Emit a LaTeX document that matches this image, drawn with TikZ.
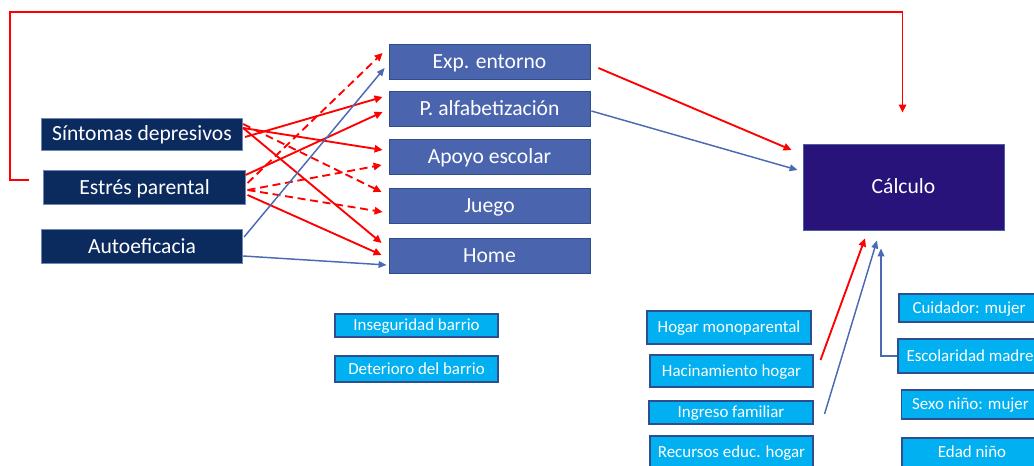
\documentclass[tikz,border=0pt]{standalone}
\usepackage{fontspec}
\setmainfont{Carlito}
\usetikzlibrary{arrows.meta,calc}
\definecolor{navyfill}{HTML}{0B2B5E}
\definecolor{navyedge}{HTML}{6F86B8}
\definecolor{midfill}{HTML}{4A65AE}
\definecolor{midedge}{HTML}{2F4E8C}
\definecolor{calcfill}{HTML}{27137A}
\definecolor{calcedge}{HTML}{4A5FA0}
\definecolor{cyanfill}{HTML}{00B0F0}
\definecolor{cyanedge}{HTML}{2E4F8F}
\definecolor{redline}{HTML}{FF0000}
\definecolor{blueline}{HTML}{4A6AB4}
\begin{document}
\begin{tikzpicture}[x=0.75pt,y=-0.75pt,
  box/.style={rectangle, inner sep=0pt, text=white, line width=0.6pt, text depth=0pt},
  bigtext/.style={font=\fontsize{16.2}{18}\selectfont, text height=10.25pt},
  leftbox/.style={box, bigtext, fill=navyfill, draw=navyedge, minimum width=151pt, minimum height=26pt},
  midbox/.style={box, bigtext, fill=midfill, draw=midedge, minimum width=150.75pt, minimum height=26.25pt},
  calcbox/.style={box, bigtext, fill=calcfill, draw=calcedge, minimum width=150.75pt, minimum height=64.5pt},
  smallbox/.style={box, fill=cyanfill, draw=cyanedge, line width=0.8pt, font=\fontsize{12.7}{14}\selectfont, text height=8.05pt},
  redarrow/.style={draw=redline, line width=1.4pt, -{Triangle[length=6pt,width=5.5pt]}},
  reddash/.style={redarrow, dash pattern=on 6pt off 3.5pt},
  bluearrow/.style={draw=blueline, line width=1.1pt, -{Triangle[length=6pt,width=5pt]}}
]
\useasboundingbox (0,0) rectangle (1034,466);

% left boxes
\node[leftbox, minimum height=24pt] (sint) at (142,134) {Síntomas depresivos};
\node[leftbox] (estres) at (144.5,187.5) {Estrés parental};
\node[leftbox] (auto) at (142,246.5) {Autoeficacia};

% middle boxes
\node[midbox] (exp) at (489.5,61.5) {Exp. entorno};
\node[midbox] (palf) at (489.5,108.5) {P. alfabetización};
\node[midbox] (apoyo) at (489.5,156.5) {Apoyo escolar};
\node[midbox] (juego) at (489.5,205.5) {Juego};
\node[midbox] (home) at (489.5,255.5) {Home};

% outcome
\node[calcbox] (calc) at (903.5,187) {Cálculo};

% neighbourhood boxes
\node[smallbox, minimum width=122.25pt, minimum height=17.25pt] (inseg) at (416.5,325.5) {Inseguridad barrio};
\node[smallbox, minimum width=122.25pt, minimum height=19.5pt] (deter) at (416.5,369) {Deterioro del barrio};

% household boxes
\node[smallbox, minimum width=123pt, minimum height=24.75pt] (hogar) at (729,327.5) {Hogar monoparental};
\node[smallbox, minimum width=122.25pt, minimum height=24pt] (hacin) at (731.5,371) {Hacinamiento hogar};
\node[smallbox, minimum width=123pt, minimum height=17.25pt] (ingreso) at (731,412.5) {Ingreso familiar};
\node[smallbox, minimum width=122.25pt, minimum height=24.75pt] (recursos) at (731.5,452.5) {Recursos educ. hogar};

% child/caregiver boxes
\node[smallbox, minimum width=105pt, minimum height=21pt] (cuid) at (969,308) {Cuidador: mujer};
\node[smallbox, minimum width=108pt, minimum height=25.5pt] (escol) at (970,356) {Escolaridad madre};
\node[smallbox, minimum width=104pt, minimum height=21.75pt] (sexo) at (970.5,404.5) {Sexo niño: mujer};
\node[smallbox, minimum width=105pt, minimum height=21.75pt] (edad) at (972,452.5) {Edad niño};

% Síntomas depresivos
\draw[redarrow] ($(sint.east)+(2,3)$) -- ($(palf.west)+(-6,-11.5)$);
\draw[redarrow] ($(sint.east)+(0,-6)$) -- ($(apoyo.west)+(-6,-6.5)$);
\draw[redarrow] ($(sint.east)+(0,-6)$) -- ($(home.west)+(-7,-12.5)$);
\draw[reddash] ($(sint.east)+(0,-10)$) -- ($(juego.west)+(-7,-13.5)$);

% Estrés parental
\draw[redarrow] ($(estres.east)+(0,-12.5)$) -- ($(palf.west)+(-6,3.5)$);
\draw[reddash] ($(estres.east)+(2,-4.5)$) -- ($(exp.west)+(-6,-8.5)$);
\draw[reddash] ($(estres.east)+(2,2.5)$) -- ($(apoyo.west)+(-7,8.5)$);
\draw[reddash] ($(estres.east)+(2,2.5)$) -- ($(juego.west)+(-6,6.5)$);
\draw[redarrow] ($(estres.east)+(2,7.5)$) -- ($(home.west)+(-7,-0.5)$);

% Autoeficacia
\draw[bluearrow] ($(auto.east)+(1,-9.5)$) -- ($(exp.west)+(-4,6.5)$);
\draw[bluearrow] ($(auto.east)+(0,9.5)$) -- ($(home.west)+(-2,9.5)$);

% mediators to outcome
\draw[redarrow] ($(exp.east)+(8,6.5)$) -- ($(calc.west)+(-11,-37)$);
\draw[bluearrow] ($(palf.east)+(1,2.5)$) -- ($(calc.west)+(-5,-17)$);

% loop from Estrés parental to Cálculo
\coordinate (loopTL) at (10,12);
\draw[redarrow] ($(estres.west)+(-14,-7.5)$) -| (loopTL) -| ($(calc.north)+(-1,-31)$);

% covariates to outcome
\draw[redarrow] ($(hacin.east)+(7,-11)$) -- ($(calc.south)+(-38.5,8)$);
\draw[bluearrow] ($(ingreso.east)+(11,1.5)$) -- ($(calc.south)+(-26.5,10)$);
\draw[bluearrow] (escol.west) -| ($(calc.south)+(-22.5,18)$);
\end{tikzpicture}
\end{document}
